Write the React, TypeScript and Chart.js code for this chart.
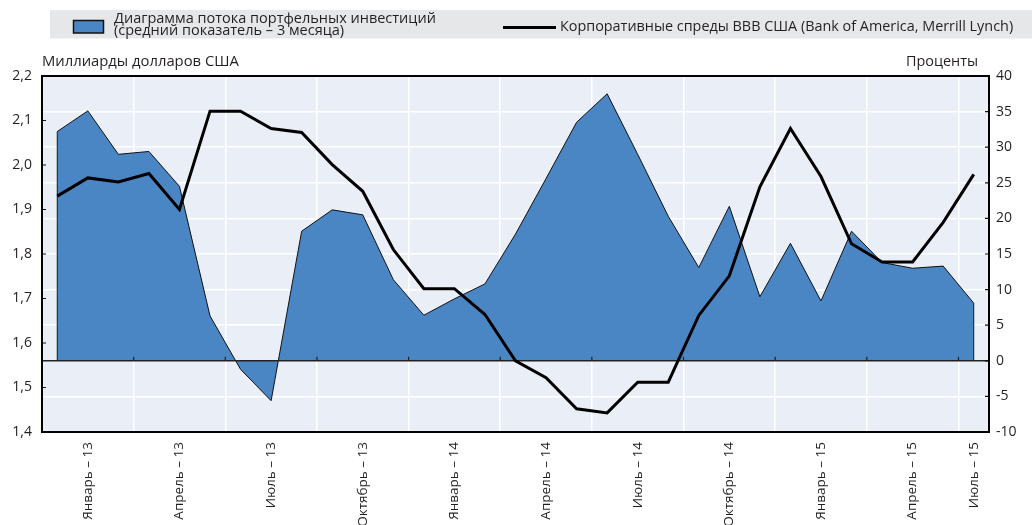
import React, { useEffect, useRef } from 'react';
import { Chart, registerables } from 'chart.js';

Chart.register(...registerables);

const tickLabels: string[] = [
  '', 'Январь – 13', '', '', 'Апрель – 13', '', '', 'Июль – 13', '', '', 'Октябрь – 13',
  '', '', 'Январь – 14', '', '', 'Апрель – 14', '', '', 'Июль – 14', '', '', 'Октябрь – 14',
  '', '', 'Январь – 15', '', '', 'Апрель – 15', '', 'Июль – 15',
];

// Portfolio investment flows (3-month average), right axis, percent
const flowValues: number[] = [
  32.2, 35.1, 29.0, 29.4, 24.5, 6.3, -1.2, -5.6, 18.2, 21.2,
  20.5, 11.4, 6.4, 8.7, 10.8, 17.8, 25.6, 33.5, 37.5, 29.0,
  20.3, 13.1, 21.7, 9.0, 16.5, 8.4, 18.2, 13.8, 13.0, 13.3, 8.1,
];

// US BBB corporate spreads, left axis
const spreadValues: number[] = [
  1.930, 1.971, 1.962, 1.981, 1.900, 2.121, 2.121, 2.082, 2.073, 2.001,
  1.941, 1.810, 1.722, 1.722, 1.664, 1.560, 1.522, 1.452, 1.443, 1.512,
  1.512, 1.662, 1.751, 1.951, 2.082, 1.974, 1.823, 1.782, 1.782, 1.871, 1.979,
];

const flowLabel1 = 'Диаграмма потока портфельных инвестиций';
const flowLabel2 = '(средний показатель – 3 месяца)';
const spreadLabel = 'Корпоративные спреды ВВВ США (Bank of America, Merrill Lynch)';
const leftTitle = 'Миллиарды долларов США';
const rightTitle = 'Проценты';

const BLUE = 'rgb(74,134,196)';
const PLOT_BG = 'rgb(233,238,247)';
const TEXT = '#231f20';
const FONT = '"Open Sans", "Noto Sans", sans-serif';

const decorPlugin = {
  id: 'decor',
  beforeDraw(chart: any) {
    const { ctx, chartArea } = chart;
    ctx.save();
    // legend band
    ctx.fillStyle = 'rgb(230,231,233)';
    ctx.fillRect(50, 10, 982, 28.5);
    // swatch
    ctx.fillStyle = BLUE;
    ctx.fillRect(73.5, 20.5, 30, 12.5);
    ctx.strokeStyle = '#111';
    ctx.lineWidth = 1.5;
    ctx.strokeRect(73.5, 20.5, 30, 12.5);
    ctx.fillStyle = TEXT;
    ctx.font = `14.5px ${FONT}`;
    ctx.textBaseline = 'middle';
    ctx.textAlign = 'left';
    ctx.fillText(flowLabel1, 114, 19);
    ctx.fillText(flowLabel2, 114, 31);
    // line legend
    ctx.strokeStyle = '#000';
    ctx.lineWidth = 3;
    ctx.beginPath();
    ctx.moveTo(503, 27.5);
    ctx.lineTo(556, 27.5);
    ctx.stroke();
    ctx.font = `14.4px ${FONT}`;
    ctx.fillText(spreadLabel, 560, 27);
    // axis titles
    ctx.font = `14.8px ${FONT}`;
    ctx.fillText(leftTitle, 42, 62);
    ctx.font = `14.4px ${FONT}`;
    ctx.textAlign = 'right';
    ctx.fillText(rightTitle, 978, 62);
    // plot background
    ctx.fillStyle = PLOT_BG;
    ctx.fillRect(chartArea.left, chartArea.top, chartArea.right - chartArea.left, chartArea.bottom - chartArea.top);
    ctx.restore();
  },
  afterDatasetDraw(chart: any, args: any) {
    if (args.index !== 0) return;
    const { ctx, chartArea, scales } = chart;
    const y0 = scales.yR.getPixelForValue(0);
    const pts = args.meta.data;
    ctx.save();
    ctx.strokeStyle = '#111';
    ctx.lineWidth = 1;
    ctx.beginPath();
    ctx.moveTo(pts[0].x, pts[0].y);
    ctx.lineTo(pts[0].x, y0);
    ctx.moveTo(pts[pts.length - 1].x, pts[pts.length - 1].y);
    ctx.lineTo(pts[pts.length - 1].x, y0);
    ctx.stroke();
    // zero line
    ctx.lineWidth = 1.6;
    ctx.strokeStyle = '#222';
    ctx.beginPath();
    ctx.moveTo(chartArea.left, y0);
    ctx.lineTo(chartArea.right, y0);
    ctx.stroke();
    // small ticks on zero line at x grid positions
    ctx.lineWidth = 1.2;
    ctx.beginPath();
    for (let i = 3; i < tickLabels.length; i += 3) {
      const x = (scales.x.getPixelForValue(i - 1) + scales.x.getPixelForValue(i)) / 2;
      ctx.moveTo(x, y0);
      ctx.lineTo(x, y0 - 4);
    }
    ctx.stroke();
    ctx.restore();
  },
  afterDraw(chart: any) {
    const { ctx, chartArea, scales } = chart;
    ctx.save();
    ctx.strokeStyle = '#111';
    ctx.lineWidth = 1.2;
    ctx.beginPath();
    scales.yL.ticks.forEach((t: any) => {
      const y = scales.yL.getPixelForValue(t.value);
      ctx.moveTo(chartArea.left, y);
      ctx.lineTo(chartArea.left + 4, y);
    });
    scales.yR.ticks.forEach((t: any) => {
      const y = scales.yR.getPixelForValue(t.value);
      ctx.moveTo(chartArea.right - 4, y);
      ctx.lineTo(chartArea.right, y);
    });
    ctx.stroke();
    ctx.lineWidth = 2;
    ctx.strokeStyle = '#000';
    ctx.strokeRect(chartArea.left, chartArea.top, chartArea.right - chartArea.left, chartArea.bottom - chartArea.top);
    ctx.restore();
  },
};

export default function App() {
  const canvasRef = useRef<HTMLCanvasElement | null>(null);

  useEffect(() => {
    const canvas = canvasRef.current;
    if (!canvas) return;
    const chart = new Chart(canvas, {
      type: 'line',
      data: {
        labels: tickLabels,
        datasets: [
          {
            label: flowLabel1,
            data: flowValues,
            yAxisID: 'yR',
            fill: 'origin',
            backgroundColor: BLUE,
            borderColor: '#111',
            borderWidth: 1,
            pointRadius: 0,
            tension: 0,
            order: 2,
          },
          {
            label: spreadLabel,
            data: spreadValues,
            yAxisID: 'yL',
            fill: false,
            borderColor: '#000',
            borderWidth: 3,
            pointRadius: 0,
            tension: 0,
            order: 1,
          },
        ],
      },
      options: {
        animation: false,
        responsive: false,
        maintainAspectRatio: false,
        layout: { padding: { top: 76, left: 0, right: 0, bottom: 0 } },
        plugins: { legend: { display: false }, tooltip: { enabled: false } },
        scales: {
          x: {
            type: 'category',
            offset: true,
            grid: {
              offset: true,
              color: (c: any) => (c.index > 0 && c.index % 3 === 0 ? '#ffffff' : 'rgba(0,0,0,0)'),
              lineWidth: 1.5,
              drawTicks: false,
            },
            border: { display: false },
            ticks: {
              autoSkip: false,
              minRotation: 90,
              maxRotation: 90,
              padding: 10,
              color: TEXT,
              font: { family: FONT, size: 13.5 },
            },
            afterFit: (s: any) => { s.height = 93; },
          },
          yL: {
            position: 'left',
            min: 1.4,
            max: 2.2,
            ticks: {
              stepSize: 0.1,
              padding: 10,
              color: TEXT,
              font: { family: FONT, size: 14 },
              callback: (v: any) => Number(v).toFixed(1).replace('.', ','),
            },
            grid: { display: false, drawTicks: false },
            border: { display: false },
            afterFit: (s: any) => { s.width = 42; },
          },
          yR: {
            position: 'right',
            min: -10,
            max: 40,
            ticks: {
              stepSize: 5,
              padding: 7,
              color: TEXT,
              font: { family: FONT, size: 14 },
            },
            grid: {
              color: (c: any) => (c.tick && c.tick.value === 0 ? 'rgba(0,0,0,0)' : '#ffffff'),
              lineWidth: 1.5,
              drawTicks: false,
            },
            border: { display: false },
            afterFit: (s: any) => { s.width = 43; },
          },
        },
      },
      plugins: [decorPlugin],
    });
    return () => chart.destroy();
  }, []);

  return (
    <div style={{ position: 'fixed', left: 0, top: 0, width: 1032, height: 525, background: '#fff' }}>
      <canvas ref={canvasRef} width={1032} height={525} style={{ display: 'block', width: 1032, height: 525 }} />
    </div>
  );
}
